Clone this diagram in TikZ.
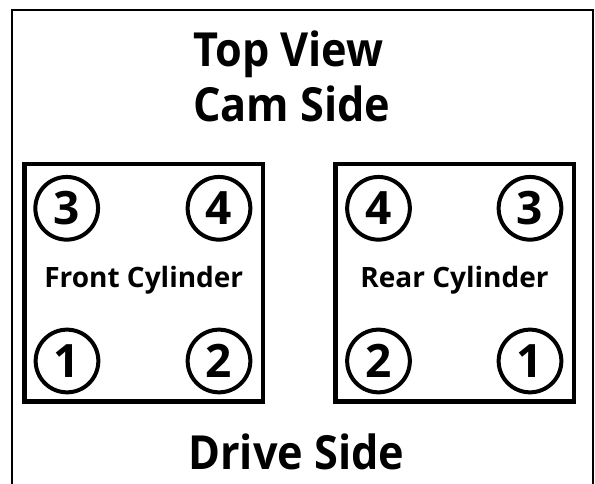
\documentclass[tikz,border=0pt]{standalone}
\usepackage{fontspec}
\setmainfont{Open Sans}
\newfontfamily\titlefont[FakeStretch=0.92]{Open Sans}
\usepackage{tikz}
\usetikzlibrary{positioning}

\begin{document}
\begin{tikzpicture}[
x=1pt, y=1pt,
mytitle/.style={
  inner sep=0pt,
  anchor=base west,
  font=\titlefont\fontsize{47}{50}\selectfont\bfseries
},
mylabel/.style={
  inner sep=0pt,
  anchor=base,
  font=\fontsize{28}{30}\selectfont\bfseries
},
mybox/.style={rectangle,
  draw,
  line width=4.5pt,
  minimum width=238.5pt,
  minimum height=237.5pt,
},
mycircle/.style={circle,
  draw,
  line width=4pt,
  inner sep=0pt,
  minimum size=62.7pt,
  font=\fontsize{46}{48}\selectfont\bfseries
}
]
\useasboundingbox (0,0) rectangle (595,484);

% frame, open at the bottom
\draw[line width=2pt] (12,0) -- (12,474) -- (593,474) -- (593,0);

\node[mytitle] (top) at (193,417) {Top View};
\node[mytitle] (cam) at (193,362) {Cam Side};
\node[mytitle] (drive) at (188,14) {Drive Side};

\node[mybox] (front) at (143.75,201) {};
\node[mybox] (rear) at (454.5,201) {};

\node[mylabel] (frontlbl) at (143.75,196) {Front Cylinder};
\node[mylabel] (rearlbl) at (454.5,196) {Rear Cylinder};

\node[mycircle] (f3) at (66.7,275.7) {3};
\node[mycircle] (f4) at (219,275.7) {4};
\node[mycircle] (f1) at (67,123) {1};
\node[mycircle] (f2) at (219,123) {2};

\node[mycircle] (r4) at (378.5,275.7) {4};
\node[mycircle] (r3) at (530,275.7) {3};
\node[mycircle] (r2) at (378.5,123) {2};
\node[mycircle] (r1) at (530,123) {1};
\end{tikzpicture}
\end{document}
